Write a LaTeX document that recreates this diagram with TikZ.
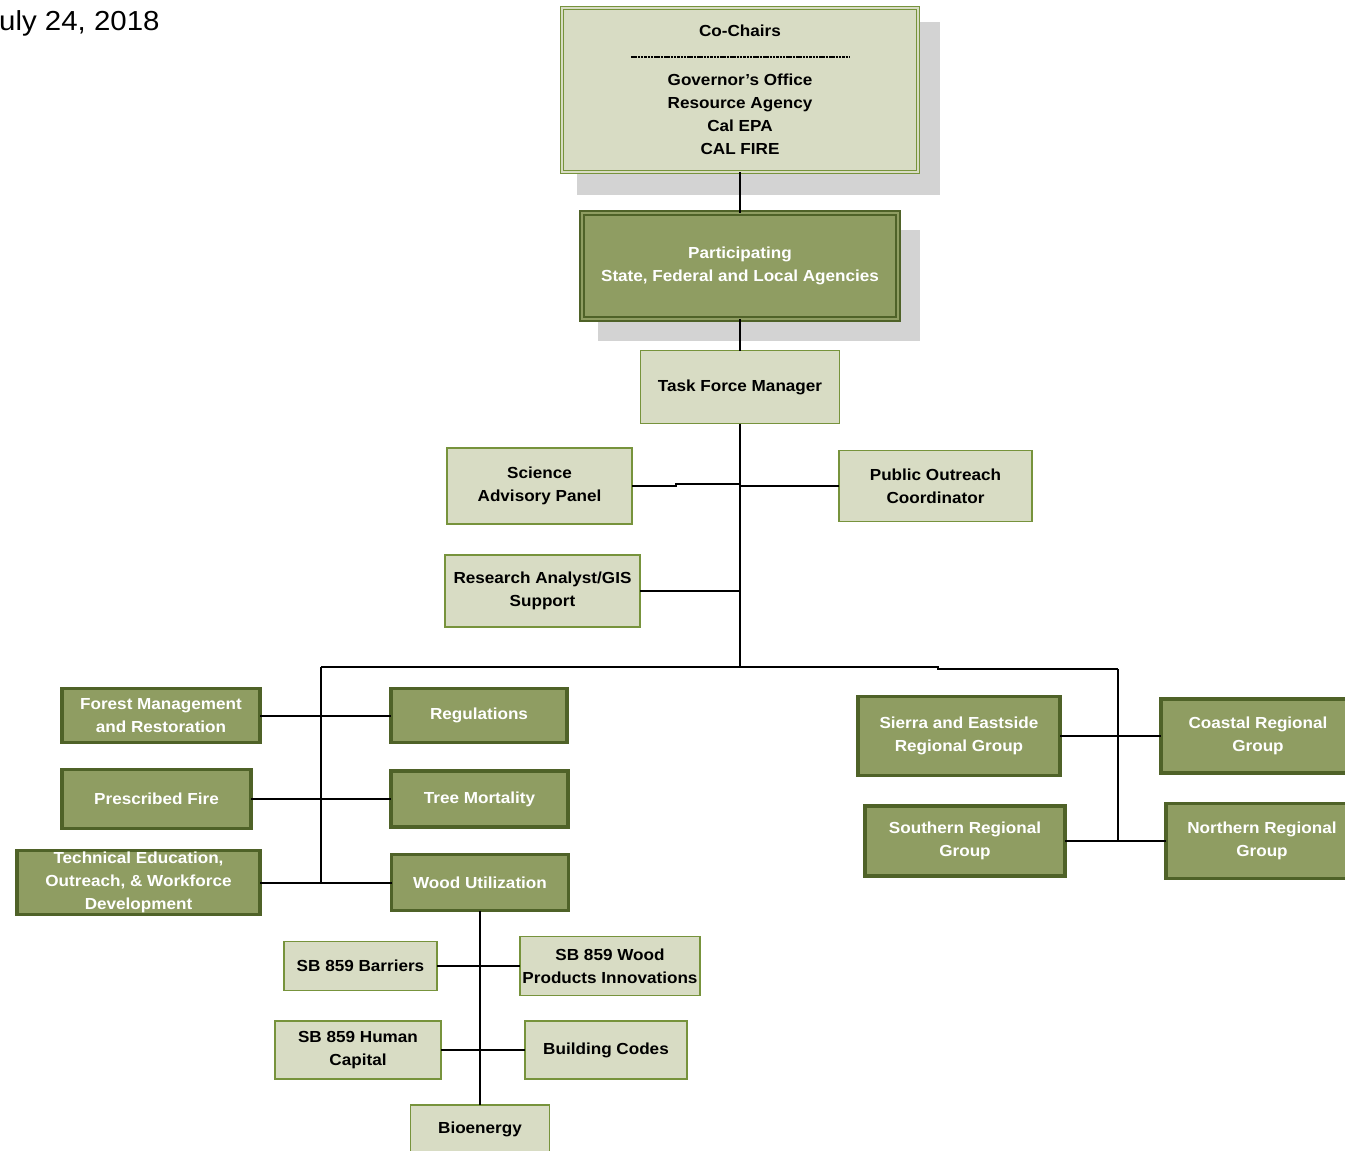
\documentclass[tikz,border=0pt]{standalone}
\usepackage{fontspec}
\setmainfont{Liberation Sans}[FakeStretch=1.07]
\definecolor{lfill}{HTML}{D8DCC4}
\definecolor{lborder}{HTML}{77933C}
\definecolor{dfill}{HTML}{8F9D62}
\definecolor{dborder}{HTML}{4F6228}
\definecolor{shadowc}{HTML}{D3D3D3}
\newcommand\boxfnt{\fontsize{16}{23}\selectfont\bfseries}
\tikzset{
  lbox/.style={draw=lborder, fill=lfill, line width=1.5pt, align=center, inner sep=0pt, outer sep=0pt, font=\boxfnt},
  dbox/.style={draw=dborder, fill=dfill, line width=3.5pt, text=white, align=center, inner sep=0pt, outer sep=0pt, font=\boxfnt},
  conn/.style={line width=2pt, black},
}
\begin{document}
\begin{tikzpicture}[x=1pt,y=-1pt]
\useasboundingbox (0,0) rectangle (1345,1151);
\clip (0,0) rectangle (1345,1151);
% shadows
\fill[shadowc] (577,22) rectangle (940,195);
\fill[shadowc] (598,230) rectangle (920,341);
% date
\node[font=\fontsize{27.5}{32}\selectfont, anchor=west, inner sep=0pt] (date) at (-1,23) {uly 24, 2018};
% top
\node[lbox, double=lfill, double distance=2pt, line width=1.2pt, minimum width=356pt, minimum height=164pt] (chairs) at (740,90)
  {Co-Chairs\\[26pt]Governor’s Office\\Resource Agency\\Cal EPA\\CAL FIRE};
\draw[line width=1.5pt, dash pattern=on 2.5pt off 0.8pt] (631,57) -- (850,57);
\node[dbox, double=dfill, double distance=2.5pt, line width=1.8pt, minimum width=316pt, minimum height=106pt] (part) at (740,266)
  {Participating\\State, Federal and Local Agencies};
\node[lbox, minimum width=199pt, minimum height=73pt] (tfm) at (740,387) {Task Force Manager};
\node[lbox, minimum width=185pt, minimum height=76pt] (sci) at (539.5,486) {Science\\Advisory Panel};
\node[lbox, minimum width=193pt, minimum height=71pt] (pub) at (935.5,486) {Public Outreach\\Coordinator};
\node[lbox, minimum width=195pt, minimum height=72pt] (res) at (542.5,591) {Research Analyst/GIS\\Support};
% left work groups
\node[dbox, minimum width=198pt, minimum height=54pt] (forest) at (161,715.5) {Forest Management\\and Restoration};
\node[dbox, minimum width=189pt, minimum height=59pt] (presc) at (156.5,799) {Prescribed Fire};
\node[dbox, minimum width=243pt, minimum height=64pt] (tech) at (138.5,882.5) {Technical Education,\\Outreach, \& Workforce\\Development};
\node[dbox, minimum width=176pt, minimum height=54pt] (reg) at (479,715.5) {Regulations};
\node[dbox, minimum width=177pt, minimum height=56pt] (tree) at (479.5,799) {Tree Mortality};
\node[dbox, minimum width=177pt, minimum height=56pt] (wood) at (480,882.5) {Wood Utilization};
% wood sub groups
\node[lbox, minimum width=153pt, minimum height=49pt] (barr) at (360.5,966) {SB 859 Barriers};
\node[lbox, minimum width=180pt, minimum height=59pt] (wprod) at (610,966) {SB 859 Wood\\Products Innovations};
\node[lbox, minimum width=166pt, minimum height=58pt] (human) at (358,1050) {SB 859 Human\\Capital};
\node[lbox, minimum width=162pt, minimum height=58pt] (build) at (606,1050) {Building Codes};
\node[lbox, minimum width=139pt, minimum height=48pt] (bio) at (480,1129) {Bioenergy};
% regional groups
\node[dbox, minimum width=202pt, minimum height=79pt] (sierra) at (959,736) {Sierra and Eastside\\Regional Group};
\node[dbox, minimum width=194pt, minimum height=74pt] (coast) at (1258,736) {Coastal Regional\\Group};
\node[dbox, minimum width=200pt, minimum height=70pt] (southg) at (965,841) {Southern Regional\\Group};
\node[dbox, minimum width=192pt, minimum height=75pt] (north) at (1262,841) {Northern Regional\\Group};
% connectors
\coordinate (spine) at (740,667);
\coordinate (sj) at (740,484);
\coordinate (lbus) at (321,667);
\coordinate (rj) at (938,667);
\coordinate (rbus) at (1118,669);
\draw[conn] (chairs.south) -- (part.north);
\draw[conn] (part.south) -- (tfm.north);
\draw[conn] (tfm.south) -- (spine);
\draw[conn] (sci.east) -- ++(44,0) -- ++(0,-2) -- (sj);
\draw[conn] (pub.west) -- (pub.west -| spine);
\draw[conn] (res.east) -- (res.east -| spine);
\draw[conn] (lbus) -- (spine) -- (rj) -- ++(0,2) -- (rbus);
\draw[conn] (lbus) -- (lbus |- tech.east);
\draw[conn] (rbus) -- (rbus |- southg.east);
\draw[conn] (forest.east) -- (reg.west);
\draw[conn] (presc.east) -- (tree.west);
\draw[conn] (tech.east) -- (wood.west);
\draw[conn] (wood.south) -- (bio.north);
\draw[conn] (barr.east) -- (wprod.west);
\draw[conn] (human.east) -- (build.west);
\draw[conn] (sierra.east) -- (coast.west);
\draw[conn] (southg.east) -- (north.west);
\end{tikzpicture}
\end{document}
